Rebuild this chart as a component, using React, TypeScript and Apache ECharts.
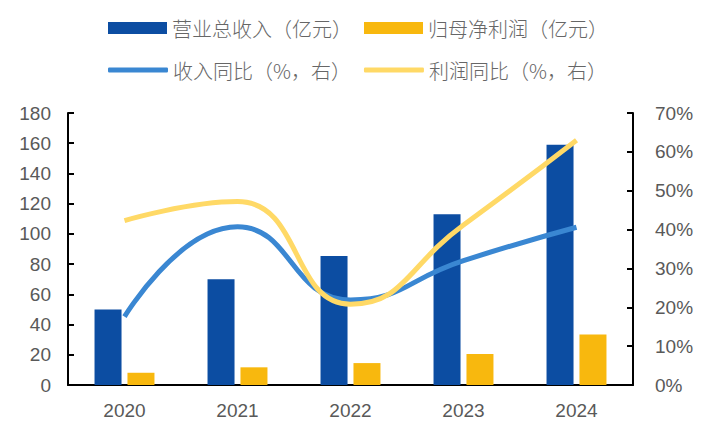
import React, { useEffect, useRef } from "react";
import * as echarts from "echarts";

const categories = ["2020", "2021", "2022", "2023", "2024"];
const revenue = [50, 70, 85.3, 113, 159];
const netProfit = [8.1, 11.7, 14.5, 20.5, 33.5];
const revenueYoY = [17.6, 40.7, 21.9, 32, 40.6];
const profitYoY = [42.3, 47.2, 20.8, 41.2, 63];

const seriesNames = ["营业总收入（亿元）", "归母净利润（亿元）", "收入同比（%，右）", "利润同比（%，右）"];

const C_REV = "#0C4DA2";
const C_PROFIT = "#F8B80E";
const C_REVL = "#3A87D2";
const C_PROFL = "#FFD966";
const TXT = "#595959";

export default function App() {
  const ref = useRef<HTMLDivElement>(null);
  useEffect(() => {
    if (!ref.current) return;
    const chart = echarts.init(ref.current, undefined, { renderer: "svg" });
    const legendText = { color: "#666", fontSize: 20, fontWeight: 300, fontFamily: "Noto Sans CJK SC" };
    chart.setOption({
      animation: false,
      backgroundColor: "#fff",
      legend: [
        {
          data: [seriesNames[0], seriesNames[1]],
          left: 103,
          top: 13,
          itemWidth: 59,
          itemHeight: 12,
          itemGap: 12,
          icon: "rect",
          textStyle: legendText,
          selectedMode: false,
        },
        {
          data: [
            { name: seriesNames[2], icon: "roundRect" },
            { name: seriesNames[3], icon: "roundRect" },
          ],
          left: 103,
          top: 55,
          itemWidth: 60,
          itemHeight: 5,
          itemGap: 13,
          textStyle: legendText,
          selectedMode: false,
        },
      ],
      grid: { left: 68, right: 75, top: 113, bottom: 50, containLabel: false },
      xAxis: {
        type: "category",
        data: categories,
        axisLine: { lineStyle: { color: "#000", width: 2 } },
        axisTick: { inside: true, length: 6, lineStyle: { color: "#000", width: 2 } },
        axisLabel: { color: TXT, fontSize: 19, fontFamily: "Liberation Sans", margin: 16 },
      },
      yAxis: [
        {
          type: "value",
          min: 0,
          max: 180,
          interval: 20,
          splitLine: { show: false },
          axisLine: { show: true, lineStyle: { color: "#000", width: 2 } },
          axisTick: { show: true, inside: true, length: 6, lineStyle: { color: "#000", width: 2 } },
          axisLabel: { color: TXT, fontSize: 19, fontFamily: "Liberation Sans", margin: 17 },
        },
        {
          type: "value",
          min: 0,
          max: 70,
          interval: 10,
          splitLine: { show: false },
          axisLine: { show: true, lineStyle: { color: "#000", width: 2 } },
          axisTick: { show: true, inside: true, length: 6, lineStyle: { color: "#000", width: 2 } },
          axisLabel: { color: TXT, fontSize: 19, fontFamily: "Liberation Sans", margin: 22, formatter: "{value}%" },
        },
      ],
      series: [
        {
          name: seriesNames[0],
          type: "bar",
          data: revenue,
          barWidth: 27,
          barGap: "22%",
          itemStyle: { color: C_REV },
        },
        {
          name: seriesNames[1],
          type: "bar",
          data: netProfit,
          barWidth: 27,
          barGap: "22%",
          itemStyle: { color: C_PROFIT },
        },
        {
          name: seriesNames[2],
          type: "line",
          yAxisIndex: 1,
          data: revenueYoY,
          smooth: true,
          symbol: "none",
          lineStyle: { color: C_REVL, width: 5 },
          itemStyle: { color: C_REVL },
        },
        {
          name: seriesNames[3],
          type: "line",
          yAxisIndex: 1,
          data: profitYoY,
          smooth: true,
          symbol: "none",
          lineStyle: { color: C_PROFL, width: 5 },
          itemStyle: { color: C_PROFL },
        },
      ],
    });
    return () => chart.dispose();
  }, []);
  return <div ref={ref} style={{ width: 708, height: 435, position: "absolute", left: 0, top: 0 }} />;
}
